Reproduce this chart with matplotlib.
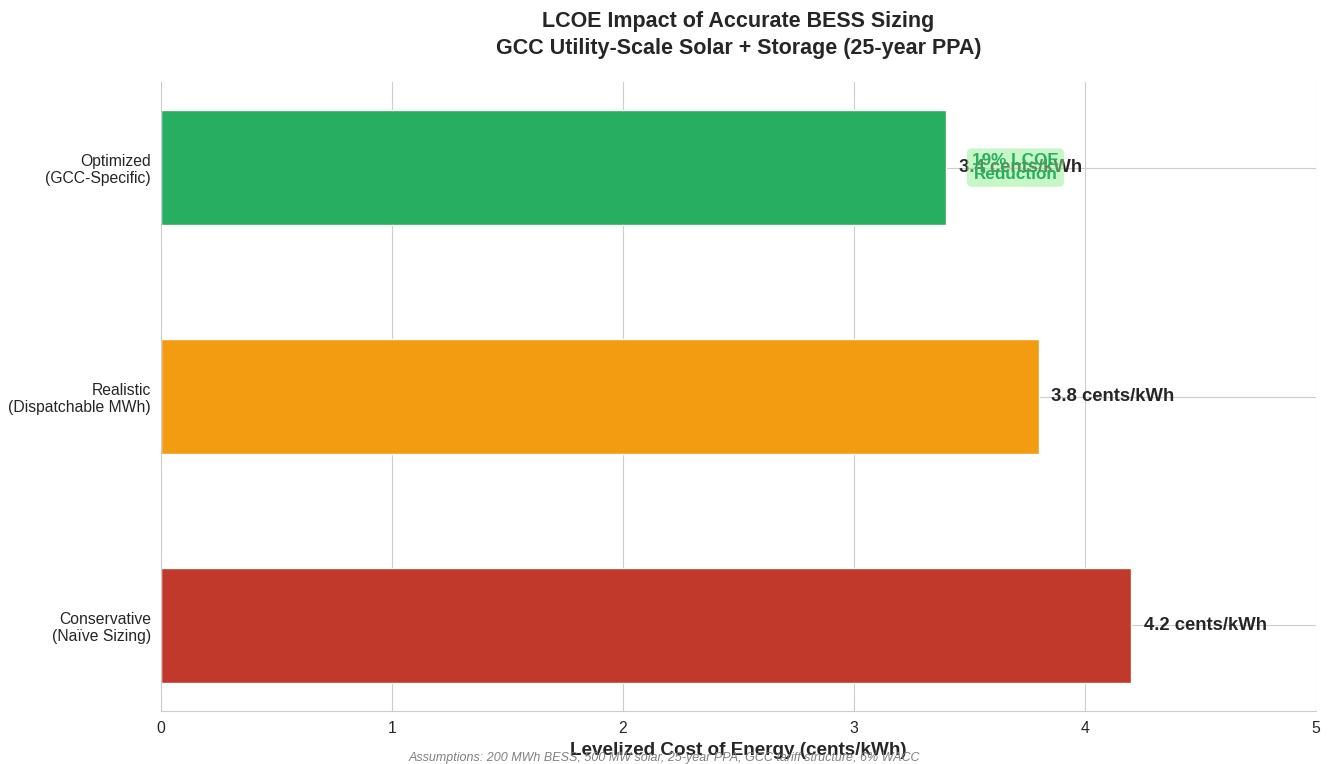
import matplotlib
matplotlib.use('Agg')
import matplotlib.pyplot as plt
import seaborn as sns

# LCOE per scenario (cents/kWh), bottom to top
scenarios = ['Conservative\n(Naïve Sizing)', 'Realistic\n(Dispatchable MWh)', 'Optimized\n(GCC-Specific)']
lcoe = [4.2, 3.8, 3.4]
colors = ['#c0392b', '#f39c12', '#27ae60']
reduction_label = '19% LCOE\nReduction'

sns.set_style('whitegrid')
plt.rcParams['font.family'] = ['Liberation Sans', 'DejaVu Sans']

fig, ax = plt.subplots(figsize=(13.29, 7.64), dpi=100)

pos = list(range(len(scenarios)))
bars = ax.barh(pos, lcoe, height=0.5, color=colors, zorder=2)

# value labels next to each bar
for p, v in zip(pos, lcoe):
    ax.text(v + 0.055, p, f'{v} cents/kWh', va='center', ha='left',
            fontsize=13.3, fontweight='bold', color='#262626', zorder=3)

# savings callout on the optimized bar
ax.text(3.7, pos[-1], reduction_label, ha='center', va='center',
        fontsize=12.3, fontweight='bold', color='#27ae60', linespacing=0.85,
        bbox=dict(boxstyle='round,pad=0.3', facecolor='lightgreen', edgecolor='none', alpha=0.5),
        zorder=4)

ax.set_yticks(pos)
ax.set_yticklabels(scenarios, fontsize=11.3, color='#262626')
ax.set_xlim(0, 5)
ax.tick_params(axis='x', labelsize=11.3, labelcolor='#262626')
ax.set_xlabel('Levelized Cost of Energy (cents/kWh)', fontsize=13.6, fontweight='bold', labelpad=4,
              color='#262626')
ax.set_title('LCOE Impact of Accurate BESS Sizing\nGCC Utility-Scale Solar + Storage (25-year PPA)',
             fontsize=15.5, fontweight='bold', pad=20, linespacing=1.4, color='#262626')
sns.despine(ax=ax)
for s in ['left', 'bottom']:
    ax.spines[s].set_color('#cccccc')

fig.text(0.5, 0.0, 'Assumptions: 200 MWh BESS, 500 MW solar, 25-year PPA, GCC tariff structure, 6% WACC',
         ha='center', va='bottom', fontsize=9, style='italic', color='gray')

fig.subplots_adjust(left=0.121, right=0.99, top=0.893, bottom=0.069)
fig.savefig('out.png', dpi=100)
